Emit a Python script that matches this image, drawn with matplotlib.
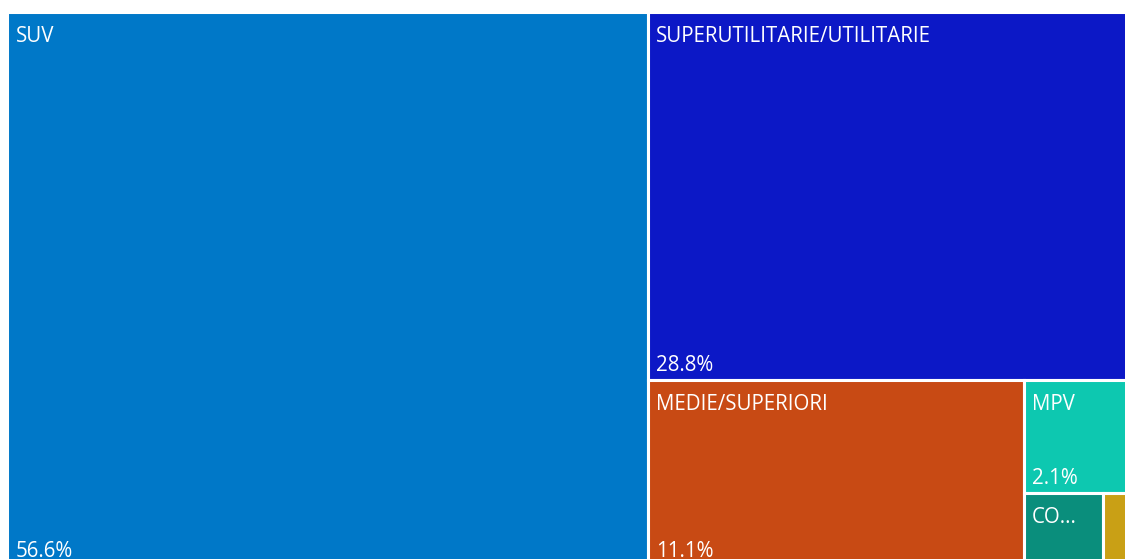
import matplotlib
matplotlib.use("Agg")
import matplotlib.pyplot as plt
from matplotlib.patches import Rectangle

# Treemap data (share of total, %)
categories = ["SUV", "SUPERUTILITARIE/UTILITARIE", "MEDIE/SUPERIORI", "MPV", "COUPE/CABRIO", "ALTRO"]
shares = [56.6, 28.8, 11.14, 2.08, 0.92, 0.41]
colors = ["#0078C8", "#0C18C6", "#C84A14", "#0DC8B0", "#0A8E7C", "#C9A015"]

W, H = 1125, 559
fig = plt.figure(figsize=(W / 100, H / 100), dpi=100)
ax = fig.add_axes([0, 0, 1, 1])
ax.set_xlim(0, W)
ax.set_ylim(H, 0)
ax.axis("off")

plt.rcParams["font.family"] = ["Open Sans", "DejaVu Sans"]

# treemap area (the visual is cropped on the right and bottom)
x0, y0, tw, th = 7, 12, 1131.6, 553.8


def layout(vals, x, y, w, h):
    """Alternating slice layout: vertical strip, then horizontal strip, ..."""
    rects = []
    remaining = sum(vals)
    vertical = True
    for i, v in enumerate(vals):
        if i == len(vals) - 1:
            rects.append((x, y, w, h))
            break
        frac = v / remaining
        if vertical:
            rw = w * frac
            rects.append((x, y, rw, h))
            x += rw
            w -= rw
        else:
            rh = h * frac
            rects.append((x, y, w, rh))
            y += rh
            h -= rh
        remaining -= v
        vertical = not vertical
    return rects


rects = layout(shares, x0, y0, tw, th)
renderer = fig.canvas.get_renderer()
pad = 8.5
fs = 14.8

for (rx, ry, rw, rh), name, val, col in zip(rects, categories, shares, colors):
    ax.add_patch(Rectangle((rx, ry), rw, rh, facecolor=col, edgecolor="white", linewidth=2.2))

    # fit label inside the tile, truncate with "..." like Power BI
    avail = rw - 2 * pad - 14
    label = name
    t = ax.text(rx + pad, ry + 30, label, color="white", fontsize=fs, va="baseline", ha="left")
    truncated = False
    while t.get_window_extent(renderer).width > avail and len(label) > 0:
        label = label[:-1]
        truncated = True
        t.set_text(label + "...")
    if len(label) == 0:
        t.set_text("")
    if not truncated:
        ax.text(rx + pad, ry + rh - 9, f"{val:.1f}%", color="white", fontsize=fs,
                va="baseline", ha="left")

fig.savefig("out.png", dpi=100, facecolor="white")
